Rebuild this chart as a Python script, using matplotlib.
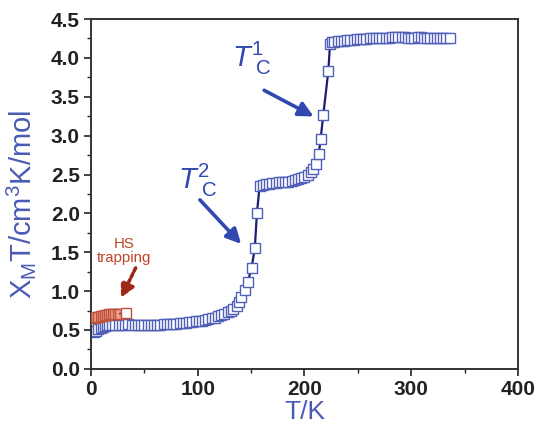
import matplotlib
matplotlib.use("Agg")
import matplotlib.pyplot as plt

plt.rcParams['font.family'] = ['Liberation Sans', 'DejaVu Sans']
plt.rcParams['mathtext.fontset'] = 'custom'
plt.rcParams['mathtext.rm'] = 'Liberation Sans'
plt.rcParams['mathtext.it'] = 'Liberation Sans:italic'
plt.rcParams['mathtext.bf'] = 'Liberation Sans:bold'

# Main (blue) series: T (K) vs chi_M T (cm3 K/mol)
temp_blue = [3, 5, 7, 9, 11, 13, 15, 17, 20, 23, 26, 29, 32, 35, 38, 41, 44, 47, 50,
             53, 56, 59, 62, 65, 68, 71, 74, 77, 80, 83, 86, 89, 92, 95, 98, 101, 104,
             107, 110, 113, 116, 119, 122, 125, 128, 131, 133.5, 136.5, 139, 141, 144,
             147, 150.5, 153.5, 155.5, 158, 161, 164, 167, 170, 173, 176, 179, 182, 185,
             188, 191, 194, 197, 200, 203, 206, 208.5, 210.5, 213.5, 215.2, 217.7, 222.4,
             224, 226, 228, 231, 234, 237, 240, 243, 246, 249, 252, 255, 258, 261, 264,
             267, 270, 273, 276, 279, 282, 285, 288, 291, 294, 297, 300, 303, 306, 309,
             312, 315, 318, 321, 324, 327, 330, 333, 336]
chi_blue = [0.47, 0.49, 0.51, 0.53, 0.54, 0.55, 0.56, 0.56, 0.56, 0.57, 0.57, 0.57, 0.57,
            0.575, 0.57, 0.57, 0.57, 0.57, 0.57, 0.57, 0.57, 0.57, 0.57, 0.57, 0.575,
            0.575, 0.58, 0.58, 0.58, 0.585, 0.59, 0.59, 0.60, 0.60, 0.61, 0.615, 0.62,
            0.63, 0.64, 0.65, 0.66, 0.68, 0.69, 0.71, 0.73, 0.75, 0.77, 0.81, 0.86, 0.93,
            1.01, 1.12, 1.30, 1.55, 2.00, 2.35, 2.37, 2.38, 2.38, 2.39, 2.39, 2.40, 2.40,
            2.41, 2.41, 2.42, 2.43, 2.44, 2.45, 2.47, 2.50, 2.53, 2.57, 2.64, 2.77, 2.96,
            3.27, 3.83, 4.18, 4.20, 4.21, 4.22, 4.22, 4.22, 4.23, 4.23, 4.23, 4.24, 4.24,
            4.24, 4.24, 4.25, 4.25, 4.25, 4.25, 4.26, 4.26, 4.26, 4.27, 4.27, 4.27, 4.27,
            4.27, 4.26, 4.26, 4.26, 4.27, 4.27, 4.26, 4.26, 4.26, 4.26, 4.25, 4.25, 4.25,
            4.25, 4.25]

# HS trapping (red) series
temp_red = [3, 5, 7, 9, 11, 13, 15, 17, 19, 21, 23, 25, 27]
chi_red = [0.66, 0.67, 0.67, 0.68, 0.68, 0.69, 0.69, 0.70, 0.70, 0.70, 0.71, 0.71, 0.71]
temp_red_last = [33]
chi_red_last = [0.72]

blue_edge = '#5060b8'
blue_line = '#1c1c72'
red_edge = '#c0503c'
red_fill = '#eaa58c'
label_blue = '#4a5ab4'
annot_blue = '#3048b0'
annot_red = '#c04428'

fig = plt.figure(figsize=(5.35, 4.23), dpi=100)
ax = fig.add_axes([0.170, 0.128, 0.798, 0.827])

ax.plot(temp_red, chi_red, '-', color='#a03020', lw=1.2, marker='s', ms=6.5,
        mfc=red_fill, mec=red_edge, mew=1.0, zorder=3)
ax.plot(temp_red[-1:] + temp_red_last, chi_red[-1:] + chi_red_last, '-', color='#a03020', lw=1.2, zorder=3)
ax.plot(temp_red_last, chi_red_last, 's', ms=6.5, mfc='white', mec=red_edge, mew=1.0, zorder=4)
ax.plot(temp_blue, chi_blue, '-', color=blue_line, lw=1.6, marker='s', ms=6.5,
        mfc='white', mec=blue_edge, mew=1.0, zorder=2)

ax.set_xlim(0, 400)
ax.set_ylim(0, 4.5)
ax.set_xticks([0, 100, 200, 300, 400])
ax.set_xticks([50, 150, 250, 350], minor=True)
ax.set_yticks([0.0, 0.5, 1.0, 1.5, 2.0, 2.5, 3.0, 3.5, 4.0, 4.5])
ax.set_yticks([0.25, 0.75, 1.25, 1.75, 2.25, 2.75, 3.25, 3.75, 4.25], minor=True)
ax.set_yticklabels(['0.0', '0.5', '1.0', '1.5', '2.0', '2.5', '3.0', '3.5', '4.0', '4.5'])
ax.tick_params(axis='both', which='major', direction='out', length=5, width=1.2,
               labelsize=15, colors='#222222', pad=3)
ax.tick_params(axis='both', which='minor', direction='out', length=3, width=1.0, colors='#222222')
for lab in ax.get_xticklabels() + ax.get_yticklabels():
    lab.set_fontweight('bold')
for s in ax.spines.values():
    s.set_linewidth(1.4)
    s.set_color('#333333')

ax.set_xlabel('T/K', fontsize=19, color=label_blue, labelpad=1)
ax.set_ylabel(r'X$_\mathrm{M}$T/cm$^\mathrm{3}$K/mol', fontsize=21, color=label_blue, labelpad=2)
ax.yaxis.set_label_coords(-0.125, 0.47)

ax.text(132, 4.0, r'$T^{1}_{\ \mathrm{C}}$', fontsize=21, color=annot_blue, ha='left', va='center')
ax.annotate('', xy=(211, 3.23), xytext=(160, 3.6),
            arrowprops=dict(arrowstyle='-|>', color=annot_blue, lw=2.6, mutation_scale=22))
ax.text(81.5, 2.42, r'$T^{2}_{\ \mathrm{C}}$', fontsize=21, color=annot_blue, ha='left', va='center')
ax.annotate('', xy=(142.5, 1.58), xytext=(100.3, 2.2),
            arrowprops=dict(arrowstyle='-|>', color=annot_blue, lw=2.6, mutation_scale=22))

ax.text(31, 1.52, 'HS\ntrapping', fontsize=10.8, color=annot_red, ha='center', va='center',
        linespacing=1.0)
ax.annotate('', xy=(27, 0.88), xytext=(43, 1.33),
            arrowprops=dict(arrowstyle='-|>', color='#a02818', lw=2.6, ls=(0, (1, 0.8)),
                            mutation_scale=20))

fig.savefig('out.png', dpi=100)
